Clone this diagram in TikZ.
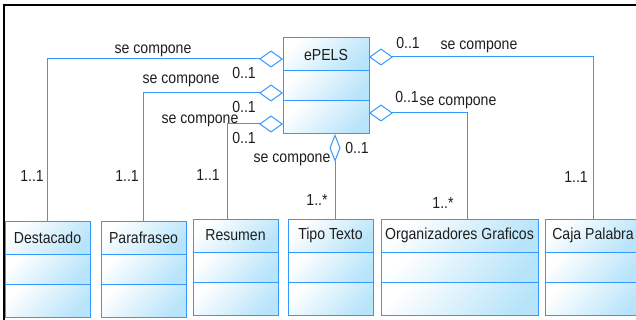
\documentclass[tikz,border=0pt]{standalone}
\usepackage{fontspec}
\setmainfont{Liberation Sans}[FakeStretch=0.88]
\usetikzlibrary{arrows.meta,positioning}
\definecolor{umlazul}{RGB}{51,153,255}
\definecolor{umlrelleno}{RGB}{184,228,250}
\definecolor{umltexto}{RGB}{30,30,30}

\begin{document}
\begin{tikzpicture}
[x=1pt,y=-1pt,line width=1pt,
  every node/.style={font=\fontsize{16}{18}\selectfont,text=umltexto},
  clase/.style={draw=umlazul,rectangle,inner sep=0pt,outer sep=0pt,
    top color=white,bottom color=umlrelleno,shading angle=45},
  cabecera/.style={clase,minimum height=33pt},
  atrib/.style={clase,minimum height=30pt},
  metod/.style={clase,minimum height=33pt},
  agg/.style={draw=umlazul,{Diamond[open,length=24pt,width=17pt]}-},
  aggv/.style={draw=umlazul,{Diamond[open,length=28pt,width=11pt]}-}]

  \useasboundingbox (0,0) rectangle (636,320);
  \draw[line width=2pt] (4,320) |- (636,5);

  % clase principal
  \node[cabecera,minimum width=86pt,anchor=north west] (epels) at (283,38) {ePELS};
  \node[atrib,minimum width=86pt,below=0pt of epels] (epels2) {};
  \node[metod,minimum width=86pt,below=0pt of epels2] (epels3) {};

  % partes
  \node[cabecera,minimum width=85pt,anchor=north west] (dest) at (5,221) {Destacado};
  \node[atrib,minimum width=85pt,below=0pt of dest] (dest2) {};
  \node[metod,minimum width=85pt,below=0pt of dest2] (dest3) {};

  \node[cabecera,minimum width=85pt,anchor=north west] (para) at (101,221) {Parafraseo};
  \node[atrib,minimum width=85pt,below=0pt of para] (para2) {};
  \node[metod,minimum width=85pt,below=0pt of para2] (para3) {};

  \node[cabecera,minimum width=85pt,anchor=north west] (res) at (193,219) {Resumen};
  \node[atrib,minimum width=85pt,below=0pt of res] (res2) {};
  \node[metod,minimum width=85pt,below=0pt of res2] (res3) {};

  \node[cabecera,minimum width=85pt,anchor=north west] (tipo) at (288,219) {Tipo Texto};
  \node[atrib,minimum width=85pt,below=0pt of tipo] (tipo2) {};
  \node[metod,minimum width=85pt,below=0pt of tipo2] (tipo3) {};

  \node[cabecera,minimum width=157pt,anchor=north west] (org) at (381,219) {Organizadores Graficos};
  \node[atrib,minimum width=157pt,below=0pt of org] (org2) {};
  \node[metod,minimum width=157pt,below=0pt of org2] (org3) {};

  \node[cabecera,minimum width=96pt,anchor=north west] (caja) at (545,219) {Caja Palabra};
  \node[atrib,minimum width=96pt,below=0pt of caja] (caja2) {};
  \node[metod,minimum width=96pt,below=0pt of caja2] (caja3) {};

  % agregaciones
  \draw[agg] ([yshift=-21pt]epels.north west) -| (dest.north);
  \draw[agg] ([yshift=-22pt]epels2.north west) -| (para.north);
  \draw[agg] ([yshift=-23pt]epels3.north west) -| ([xshift=-8.5pt]res.north);
  \draw[aggv] ([xshift=9pt]epels3.south) -- ([xshift=4.5pt]tipo.north);
  \draw[agg] ([yshift=-12pt]epels3.north east) -| ([xshift=7.5pt]org.north);
  \draw[agg] ([yshift=-19pt]epels.north east) -| ([xshift=0.5pt]caja.north);

  % roles
  \node (r1) at (153,51) {se compone};
  \node (r2) at (181,81) {se compone};
  \node (r3) at (200,121) {se compone};
  \node (r4) at (292,160) {se compone};
  \node (r5) at (458,103) {se compone};
  \node (r6) at (479,47) {se compone};

  % multiplicidades
  \node (m1) at (244,73) {0..1};
  \node (m2) at (244,107) {0..1};
  \node (m3) at (244,138) {0..1};
  \node (m4) at (357,148) {0..1};
  \node (m5) at (407,97) {0..1};
  \node (m6) at (408,43) {0..1};
  \node (n1) at (32,176) {1..1};
  \node (n2) at (127,176) {1..1};
  \node (n3) at (208,175) {1..1};
  \node (n4) at (317,200) {1..*};
  \node (n5) at (443,203) {1..*};
  \node (n6) at (576,177) {1..1};
\end{tikzpicture}
\end{document}
